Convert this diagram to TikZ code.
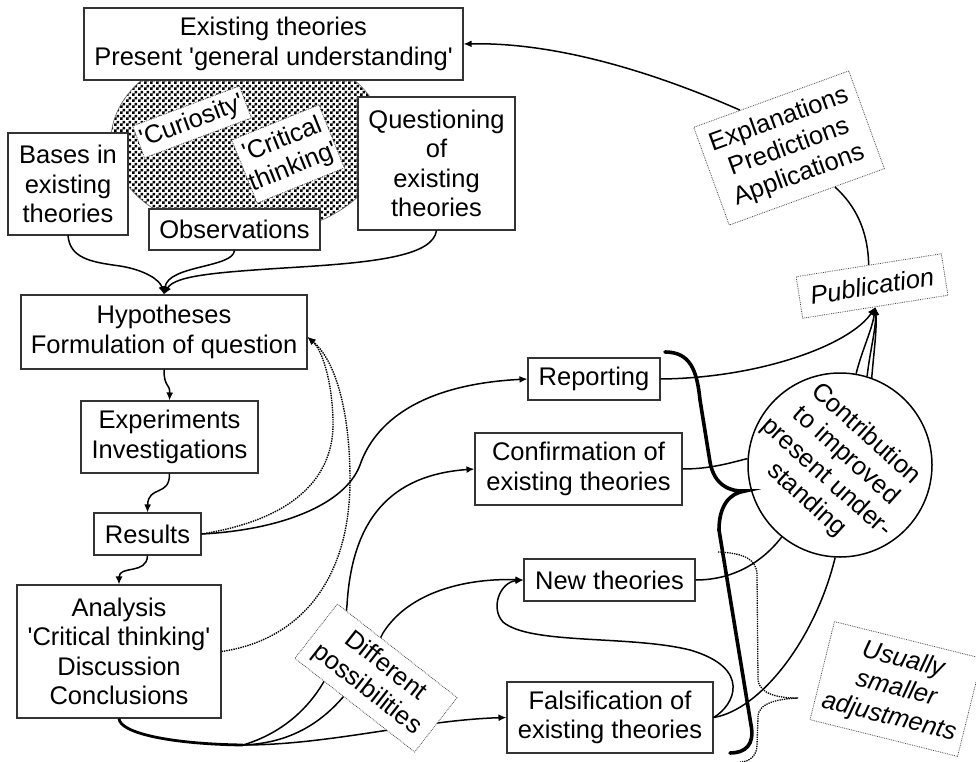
\documentclass[tikz,border=0pt]{standalone}
\usepackage{fontspec}
\setmainfont{Liberation Sans}
\usetikzlibrary{arrows.meta,calc,patterns}
\newcommand\q{\textquotesingle}
\pgfdeclarepatternformonly{speckle}{\pgfqpoint{0pt}{0pt}}{\pgfqpoint{6pt}{6pt}}{\pgfqpoint{6pt}{6pt}}{%
  \pgfpathrectangle{\pgfqpoint{0pt}{0pt}}{\pgfqpoint{3pt}{3pt}}%
  \pgfpathrectangle{\pgfqpoint{3pt}{3pt}}{\pgfqpoint{3pt}{3pt}}%
  \pgfusepath{fill}}
\begin{document}
\begin{tikzpicture}[x=1pt,y=-1pt,
  txt/.style={font=\fontsize{25.5}{29.5}\selectfont, align=center, inner sep=0pt},
  box/.style={txt, draw=black!80, line width=1.1pt, fill=white},
  dbox/.style={txt, draw=black!70, densely dotted, line width=0.8pt, fill=white},
  conn/.style={line width=1.5pt},
  arr/.style={conn, -{Latex[length=8pt,width=7pt]}},
  dotarr/.style={line width=1.4pt, densely dotted, -{Latex[length=8pt,width=7pt]}},
  bracestyle/.style={line width=3.6pt, line cap=round}
]
\fill[white] (0,0) rectangle (976,762);
\useasboundingbox (0,0) rectangle (976,762);

% patterned cloud
\fill[pattern=speckle, pattern color=black] (248,140) ellipse [x radius=137, y radius=95];
\draw[black!60, line width=0.6pt] (248,140) ellipse [x radius=137, y radius=95];

% nodes
\node[box, minimum width=379pt, minimum height=72pt] (exist) at (273.5,44) {Existing theories\\Present \q general understanding\q};
\node[dbox, minimum width=114pt, minimum height=34pt, rotate=20.5] (curio) at (192,122) {\q Curiosity\q};
\node[dbox, minimum width=94pt, minimum height=68pt, rotate=22] (crit) at (288,154) {\q Critical\\thinking\q};
\node[box, minimum width=120pt, minimum height=102pt] (bases) at (68,184) {Bases in\\existing\\theories};
\node[box, minimum width=171pt, minimum height=41pt] (obs) at (234.5,229.5) {Observations};
\node[box, minimum width=157pt, minimum height=133pt] (quest) at (436.5,163.5) {Questioning\\of\\existing\\theories};
\node[box, minimum width=286pt, minimum height=74pt] (hyp) at (164,332) {Hypotheses\\Formulation of question};
\node[box, minimum width=177pt, minimum height=72pt] (exper) at (169.5,437) {Experiments\\Investigations};
\node[box, minimum width=107pt, minimum height=42pt] (results) at (147.5,534) {Results};
\node[box, minimum width=204pt, minimum height=133pt] (analysis) at (119,651.5) {Analysis\\\q Critical thinking\q\\Discussion\\Conclusions};
\node[box, minimum width=132pt, minimum height=42pt] (report) at (594,379) {Reporting};
\node[box, minimum width=207pt, minimum height=72pt] (confirm) at (578.5,469) {Confirmation of\\existing theories};
\node[box, minimum width=171pt, minimum height=42pt] (newth) at (609.5,580) {New theories};
\node[box, minimum width=206pt, minimum height=71pt] (falsif) at (610,717.5) {Falsification of\\existing theories};
\node[draw, circle, line width=1.5pt, minimum size=184pt, inner sep=0pt, fill=white] (circ) at (840,465) {};
\node[txt, rotate=-42] (circtxt) at (836,467) {Contribution\\to improved\\present under-\\standing};
\node[dbox, minimum width=147pt, minimum height=42pt, rotate=9, font=\fontsize{25.5}{29.5}\selectfont\itshape] (pub) at (872,286) {Publication};
\node[dbox, minimum width=165pt, minimum height=104pt, rotate=20] (expl) at (789,148) {Explanations\\Predictions\\Applications};
\node[dbox, minimum width=152pt, minimum height=101pt, rotate=-14, font=\fontsize{25.5}{29.5}\selectfont\itshape] (usual) at (896,689) {Usually\\smaller\\adjustments};

\coordinate (explTop) at ($(expl.north west)!0.3!(expl.north east)$);
\coordinate (explBot) at ($(expl.south west)!0.68!(expl.south east)$);
\coordinate (split) at (243,745);

% connectors: top part
\draw[arr] (bases.south) .. controls (70,258) and (90,262) .. (120,266) .. controls (145,270) and (160,280) .. (hyp.north);
\draw[arr] (obs.south) .. controls (233,268) and (168,265) .. (hyp.north);
\draw[arr] (quest.south) .. controls (433,255) and (380,262) .. (300,267) .. controls (220,272) and (175,275) .. (hyp.north);

% main chain
\draw[arr] (hyp.south) .. controls (164,388) and (170,383) .. (exper.north);
\draw[arr] (exper.south) .. controls (170,497) and (148,485) .. (results.north);
\draw[arr] (results.south) .. controls (147,575) and (119,565) .. (analysis.north);

% dotted feedback
\draw[dotarr] (results.east) .. controls (290,520) and (335,480) .. (333,420) .. controls (332,380) and (322,350) .. (hyp.-2);
\draw[dotarr] (analysis.east) .. controls (300,640) and (350,580) .. (350,480) .. controls (350,410) and (335,360) .. (hyp.-2);

% results -> reporting
\draw[arr] (results.east) .. controls (280,530) and (345,505) .. (360,465) .. controls (372,430) and (410,385) .. (report.west);

% analysis -> possibilities
\draw[line width=2.8pt] (analysis.south) .. controls (120,733) and (170,744) .. (split);
\draw[arr] (split) .. controls (300,728) and (340,680) .. (347,605) .. controls (352,520) and (390,475) .. (confirm.west);
\draw[arr] (split) .. controls (320,742) and (355,690) .. (383,633) .. controls (410,590) and (470,578) .. (newth.west);
\draw[arr] (split) .. controls (330,745) and (420,720) .. (falsif.west);

% falsification loop to new theories
\draw[arr] (falsif.east) .. controls (735,705) and (752,668) .. (690,650) .. controls (630,635) and (530,645) .. (503,622) .. controls (490,608) and (500,582) .. (newth.west);

% to circle
\draw[conn] (confirm.east) .. controls (710,469) and (730,463) .. (circ.176);
\draw[conn] (newth.east) .. controls (730,580) and (760,565) .. (circ.231);
\draw[conn] (falsif.east) .. controls (760,710) and (815,640) .. (circ.267);

% to publication
\draw[arr] (report.east) .. controls (760,378) and (850,345) .. (pub.south);
\draw[arr] (circ.80) .. controls (862,350) and (872,330) .. (pub.south);
\draw[arr] (circ.73) .. controls (870,350) and (876,330) .. (pub.south);
\draw[arr] (circ.70) .. controls (874,350) and (877,330) .. (pub.south);

% publication -> explanations -> existing theories
\draw[conn] (pub.north) .. controls (868,230) and (855,205) .. (explBot);
\draw[arr] (explTop) .. controls (660,75) and (560,42) .. (exist.east);

% different possibilities label on top of branches
\node[dbox, minimum width=152pt, minimum height=69pt, rotate=-38] (diff) at (376,678) {Different\\possibilities};

% big brace
\draw[bracestyle] (665,352) .. controls (690,352) and (697,370) .. (700,400) -- (710,462) .. controls (714,485) and (730,492) .. (745,491) .. controls (730,493) and (719,505) .. (719,530) -- (751,725) .. controls (755,745) and (745,753) .. (730,753);

% dotted brace
\draw[line width=1.3pt, densely dotted] (718,552) .. controls (745,553) and (757,560) .. (757,575) -- (758,680) .. controls (760,695) and (780,698) .. (798,698) .. controls (780,699) and (758,702) .. (758,717) -- (757,745) .. controls (757,755) and (750,762) .. (740,762);
\end{tikzpicture}
\end{document}
